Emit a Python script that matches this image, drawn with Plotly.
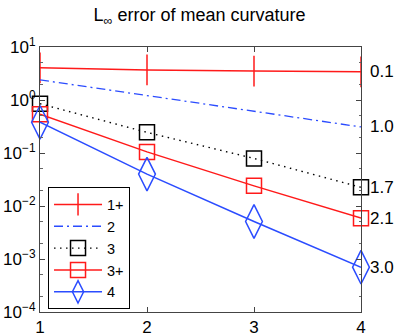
import math
import plotly.graph_objects as go

# refinement levels
levels = [1, 2, 3, 4]

# L-infinity error of mean curvature per method
err_1p = [4.05, 3.7, 3.52, 3.4]
err_2 = [2.4, 1.22, 0.62, 0.31]
err_3 = [0.85, 0.245, 0.079, 0.0225]
err_3p = [0.54, 0.105, 0.024, 0.0059]
err_4 = [0.38, 0.040, 0.0051, 0.0007]

names = ["1+", "2", "3", "3+", "4"]
rates = ["0.1", "1.0", "1.7", "2.1", "3.0"]

ytick_vals = [1e-4, 1e-3, 1e-2, 1e-1, 1e0, 1e1]
ytick_text = ["10<sup>\u22124</sup>", "10<sup>\u22123</sup>", "10<sup>\u22122</sup>",
              "10<sup>\u22121</sup>", "10<sup>0</sup>", "10<sup>1</sup>"]

red = "#ff1a1a"
blue = "#2b4cff"

fig = go.Figure()

fig.add_trace(go.Scatter(x=levels, y=err_1p, name=names[0], mode="lines+markers",
                         line=dict(color=red, width=1.5), cliponaxis=False,
                         marker=dict(symbol="line-ns", size=22,
                                     line=dict(color=red, width=1.5))))
fig.add_trace(go.Scatter(x=levels, y=err_2, name=names[1], mode="lines",
                         line=dict(color=blue, width=1.3, dash="9px,4px,2px,4px")))
fig.add_trace(go.Scatter(x=levels, y=err_3, name=names[2], mode="lines+markers",
                         line=dict(color="black", width=1.4, dash="1.5px,4.5px"),
                         cliponaxis=False,
                         marker=dict(symbol="square-open", size=15, color="black",
                                     line=dict(width=1.5))))
fig.add_trace(go.Scatter(x=levels, y=err_3p, name=names[3], mode="lines+markers",
                         line=dict(color=red, width=1.5), cliponaxis=False,
                         marker=dict(symbol="square-open", size=15, color=red,
                                     line=dict(width=1.5))))
fig.add_trace(go.Scatter(x=levels, y=err_4, name=names[4], mode="lines+markers",
                         line=dict(color=blue, width=1.5), cliponaxis=False,
                         marker=dict(symbol="diamond-tall-open", size=24, color=blue,
                                     line=dict(width=1.5))))

# convergence rates next to the last point of each series
last_vals = [err_1p[-1], err_2[-1], err_3[-1], err_3p[-1], err_4[-1]]
for r, v in zip(rates, last_vals):
    fig.add_annotation(x=levels[-1], y=math.log10(v), yref="y", xref="x", text=r,
                       showarrow=False, xanchor="left", xshift=7,
                       font=dict(size=17, color="black"))

fig.update_xaxes(range=[1, 4], tickvals=levels, ticks="inside", ticklen=5,
                 showline=True, linecolor="#444", linewidth=1, mirror="ticks",
                 showgrid=False, zeroline=False, tickcolor="#444", automargin=False,
                 tickfont=dict(size=17, color="black"))
fig.update_yaxes(type="log", range=[-4, 1], tickvals=ytick_vals, ticktext=ytick_text,
                 ticks="inside", ticklen=5, showline=True, linecolor="#444",
                 linewidth=1, mirror="ticks", showgrid=False, tickcolor="#444",
                 automargin=False,
                 minor=dict(ticks="inside", ticklen=2.5, tickcolor="#666",
                            showgrid=False),
                 tickfont=dict(size=17, color="black"))

fig.update_layout(
    width=407, height=336,
    margin=dict(l=40, r=46, t=47, b=24),
    paper_bgcolor="white", plot_bgcolor="white",
    font=dict(family="Liberation Sans, Arial, sans-serif", size=17, color="black"),
    title=dict(text="L<sub>\u221e</sub> error of mean curvature", x=0.49, xanchor="center",
               y=0.955, yanchor="middle", font=dict(size=18)),
    showlegend=True,
    legend=dict(x=0.025, y=0.47, xanchor="left", yanchor="top",
                bordercolor="black", borderwidth=1, bgcolor="white",
                font=dict(size=14.5), tracegroupgap=0, itemwidth=48),
)

# page body has a default 8px margin; drop it so the figure sits at the corner
fig.write_html("out.html", config={"displayModeBar": False},
               post_script="document.body.style.margin='0px';")
